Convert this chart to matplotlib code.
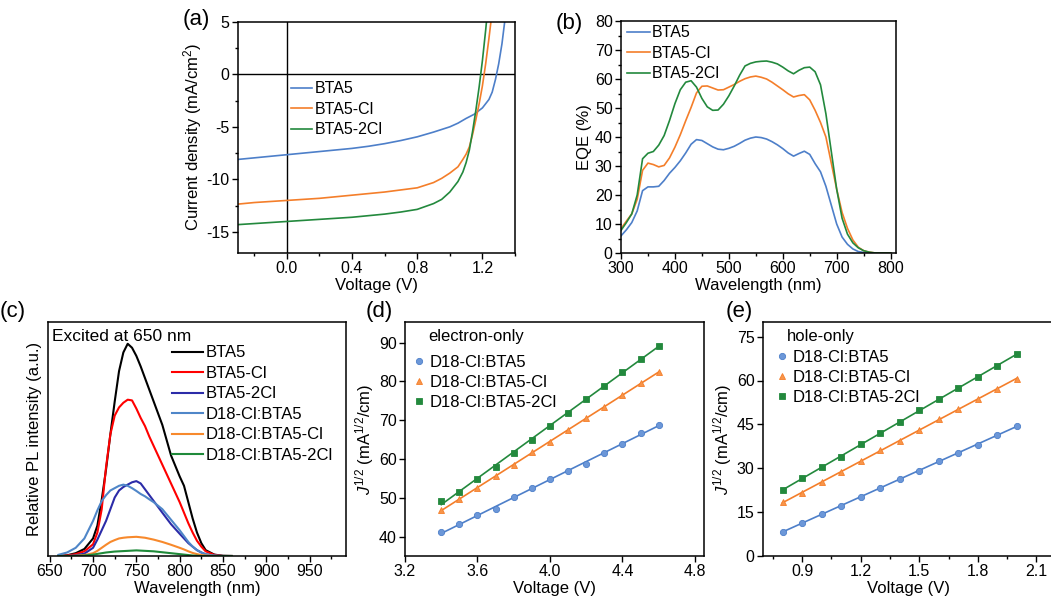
import numpy as np
import matplotlib
matplotlib.use("Agg")
import matplotlib.pyplot as plt
from matplotlib.ticker import MultipleLocator, NullLocator
from matplotlib.lines import Line2D

plt.rcParams['font.family'] = ['Liberation Sans', 'DejaVu Sans']
plt.rcParams['mathtext.fontset'] = 'custom'
plt.rcParams['mathtext.rm'] = 'Liberation Sans'
plt.rcParams['mathtext.it'] = 'Liberation Sans:italic'
plt.rcParams['axes.linewidth'] = 1.1
plt.rcParams['axes.unicode_minus'] = False

# ---------------- (a) J-V curves ----------------
jv_labels = ['BTA5', 'BTA5-Cl', 'BTA5-2Cl']
v_bta5 = [-0.3, -0.2, -0.1, 0.0, 0.1, 0.2, 0.3, 0.4, 0.5, 0.6, 0.7, 0.8, 0.9, 1.0,
          1.05, 1.1, 1.15, 1.2, 1.24, 1.26, 1.28, 1.30, 1.32, 1.34]
j_bta5 = [-8.1, -7.95, -7.8, -7.65, -7.5, -7.35, -7.2, -7.05, -6.85, -6.6, -6.3, -5.95, -5.5, -5.0,
          -4.65, -4.2, -3.8, -3.2, -2.4, -1.7, -0.5, 1.0, 2.9, 5.4]
v_cl = [-0.3, -0.2, -0.1, 0.0, 0.1, 0.2, 0.3, 0.4, 0.5, 0.6, 0.7, 0.8, 0.9, 0.95, 1.0,
        1.05, 1.08, 1.1, 1.12, 1.14, 1.16, 1.18, 1.2, 1.22, 1.24, 1.26]
j_cl = [-12.35, -12.2, -12.1, -12.0, -11.9, -11.8, -11.65, -11.5, -11.35, -11.2, -11.0, -10.8, -10.3, -9.9, -9.4,
        -8.8, -8.1, -7.6, -6.9, -5.7, -4.3, -2.8, -1.1, 1.0, 3.4, 6.0]
v_2cl = [-0.3, -0.2, -0.1, 0.0, 0.1, 0.2, 0.3, 0.4, 0.5, 0.6, 0.7, 0.8, 0.9, 0.95, 1.0,
         1.05, 1.08, 1.1, 1.12, 1.14, 1.16, 1.18, 1.2, 1.22, 1.23]
j_2cl = [-14.3, -14.2, -14.1, -14.0, -13.9, -13.8, -13.7, -13.6, -13.45, -13.3, -13.1, -12.85, -12.3, -11.9, -11.2,
         -10.2, -9.3, -8.4, -7.2, -5.4, -3.4, -1.2, 1.3, 4.2, 5.8]

# ---------------- (b) EQE ----------------
wl_eqe = [300, 310, 320, 330, 340, 350, 360, 370, 380, 390, 400, 410, 420, 430, 440, 450, 460, 470, 480, 490,
          500, 510, 520, 530, 540, 550, 560, 570, 580, 590, 600, 610, 620, 630, 640, 650, 660, 670, 680, 690,
          700, 710, 720, 730, 740, 750, 760, 770, 780, 790, 800]
eqe_bta5 = [5.9, 8.0, 10.5, 14.5, 21.5, 22.8, 22.8, 23.0, 25.0, 27.5, 29.5, 31.8, 34.5, 37.5, 39.1, 38.8, 37.7, 36.6, 35.8, 35.6,
            36.1, 36.8, 37.8, 38.9, 39.6, 40.0, 39.8, 39.3, 38.4, 37.3, 36.0, 34.5, 33.4, 34.3, 35.1, 34.0, 30.8, 28.0, 23.0, 16.5,
            10.0, 5.5, 3.0, 1.4, 0.5, 0.2, 0.05, 0.0, 0.0, 0.0, 0.0]
eqe_cl = [8.4, 11.0, 13.5, 18.5, 28.5, 31.0, 30.5, 29.7, 30.2, 32.8, 36.5, 40.8, 45.6, 50.2, 55.2, 57.5, 57.6, 56.9, 56.2, 56.3,
          57.2, 58.1, 59.2, 60.1, 60.7, 61.0, 60.6, 60.0, 58.9, 57.6, 56.3, 54.9, 53.8, 54.3, 54.6, 52.8, 49.2, 45.0, 40.0, 31.0,
          22.0, 14.0, 8.5, 4.5, 2.0, 0.8, 0.3, 0.05, 0.0, 0.0, 0.0]
eqe_2cl = [7.8, 10.5, 13.5, 20.0, 32.5, 34.4, 35.0, 37.2, 40.5, 45.7, 51.5, 56.3, 58.9, 59.4, 57.2, 53.3, 50.4, 49.2, 49.3, 51.3,
           54.2, 57.6, 61.3, 64.5, 65.4, 65.9, 66.1, 66.2, 65.8, 65.2, 64.1, 62.8, 61.8, 63.0, 63.9, 64.1, 62.5, 58.0, 48.0, 35.0,
           22.0, 12.0, 6.5, 3.5, 1.8, 0.8, 0.3, 0.05, 0.0, 0.0, 0.0]

# ---------------- (c) PL ----------------
wl_pl = [660, 670, 680, 690, 700, 705, 710, 715, 720, 725, 730, 735, 740, 745, 750, 755, 760, 765, 770, 780,
         790, 800, 805, 810, 815, 820, 825, 830, 840, 850, 860]
pl_labels = ['BTA5', 'BTA5-Cl', 'BTA5-2Cl', 'D18-Cl:BTA5', 'D18-Cl:BTA5-Cl', 'D18-Cl:BTA5-2Cl']
pl_bta5 = [0, 0.003, 0.012, 0.03, 0.075, 0.13, 0.24, 0.37, 0.52, 0.66, 0.79, 0.87, 0.907, 0.89, 0.855, 0.81, 0.76, 0.71, 0.66, 0.56,
           0.43, 0.34, 0.3, 0.23, 0.16, 0.1, 0.055, 0.025, 0.006, 0.001, 0]
pl_cl = [0, 0.002, 0.008, 0.02, 0.05, 0.1, 0.2, 0.38, 0.52, 0.6, 0.635, 0.655, 0.668, 0.665, 0.63, 0.59, 0.555, 0.51, 0.47, 0.39,
         0.31, 0.23, 0.185, 0.14, 0.1, 0.065, 0.04, 0.02, 0.005, 0, 0]
pl_2cl = [0, 0, 0.003, 0.01, 0.035, 0.07, 0.11, 0.15, 0.2, 0.25, 0.28, 0.295, 0.305, 0.315, 0.32, 0.31, 0.285, 0.26, 0.235, 0.185,
          0.136, 0.095, 0.075, 0.055, 0.04, 0.025, 0.015, 0.007, 0.001, 0, 0]
pl_d_bta5 = [0.005, 0.015, 0.035, 0.075, 0.15, 0.195, 0.235, 0.26, 0.28, 0.29, 0.3, 0.305, 0.3, 0.29, 0.278, 0.265, 0.255, 0.242, 0.23, 0.2,
             0.155, 0.11, 0.085, 0.06, 0.04, 0.025, 0.015, 0.008, 0.002, 0, 0]
pl_d_cl = [0, 0, 0.001, 0.004, 0.012, 0.022, 0.035, 0.048, 0.06, 0.068, 0.075, 0.078, 0.08, 0.081, 0.082, 0.08, 0.078, 0.074, 0.07, 0.06,
           0.048, 0.035, 0.028, 0.02, 0.013, 0.008, 0.004, 0.002, 0, 0, 0]
pl_d_2cl = [0, 0, 0, 0.002, 0.006, 0.009, 0.012, 0.015, 0.017, 0.019, 0.02, 0.021, 0.022, 0.023, 0.024, 0.023, 0.022, 0.021, 0.02, 0.016,
            0.012, 0.008, 0.006, 0.004, 0.002, 0.001, 0, 0, 0, 0, 0]

# ---------------- (d) electron-only / (e) hole-only ----------------
sclc_labels = ['D18-Cl:BTA5', 'D18-Cl:BTA5-Cl', 'D18-Cl:BTA5-2Cl']
v_e = [3.4, 3.5, 3.6, 3.7, 3.8, 3.9, 4.0, 4.1, 4.2, 4.3, 4.4, 4.5, 4.6]
je_bta5 = [41.1, 43.3, 45.6, 47.2, 50.1, 52.4, 54.8, 56.9, 58.8, 61.5, 63.9, 66.7, 68.8]
je_cl = [46.8, 49.7, 52.6, 55.5, 58.5, 61.8, 64.5, 67.4, 70.6, 73.5, 76.4, 79.5, 82.4]
je_2cl = [49.3, 51.5, 54.8, 58.0, 61.6, 65.0, 68.4, 71.9, 75.4, 78.9, 82.4, 85.8, 89.2]
v_h = [0.8, 0.9, 1.0, 1.1, 1.2, 1.3, 1.4, 1.5, 1.6, 1.7, 1.8, 1.9, 2.0]
jh_bta5 = [8.2, 11.3, 14.2, 17.1, 20.2, 23.4, 26.4, 29.2, 32.4, 35.3, 38.1, 41.3, 44.4]
jh_cl = [18.3, 21.6, 25.2, 28.8, 32.4, 36.1, 39.4, 43.0, 46.9, 50.3, 53.7, 57.2, 60.5]
jh_2cl = [22.5, 26.5, 30.3, 34.0, 38.2, 42.0, 45.9, 49.8, 53.7, 57.3, 61.2, 65.0, 69.1]

c_blue = '#4D7FC9'
c_orange = '#F47E2A'
c_green = '#23893D'

TICK = 11.5
LAB = 12

fig = plt.figure(figsize=(10.51, 6.01), dpi=100)
W, H = 1051.0, 601.0


def add_ax(l, r, t, b):
    return fig.add_axes([l / W, 1 - b / H, (r - l) / W, (b - t) / H])


def style(ax, minor_x=None, minor_y=None):
    ax.tick_params(which='both', direction='out', labelsize=TICK, width=1.0, pad=2)
    ax.tick_params(which='major', length=4)
    ax.tick_params(which='minor', length=2.5)
    if minor_x:
        ax.xaxis.set_minor_locator(MultipleLocator(minor_x))
    if minor_y:
        ax.yaxis.set_minor_locator(MultipleLocator(minor_y))


# (a)
ax = add_ax(238, 515, 21.7, 253)
ax.axhline(0, color='black', lw=1.0)
ax.axvline(0, color='black', lw=1.0)
for v, j, c, lab in zip([v_bta5, v_cl, v_2cl], [j_bta5, j_cl, j_2cl], [c_blue, c_orange, c_green], jv_labels):
    ax.plot(v, j, color=c, lw=1.2, label=lab)
ax.set_xlim(-0.3, 1.4)
ax.set_ylim(-17, 5)
ax.set_xticks([0.0, 0.4, 0.8, 1.2])
ax.set_xticklabels(['0.0', '0.4', '0.8', '1.2'])
ax.set_yticks([-15, -10, -5, 0, 5])
style(ax, 0.2, 2.5)
ax.set_xlabel('Voltage (V)', fontsize=LAB, labelpad=1)
ax.set_ylabel('Current density (mA/cm$^2$)', fontsize=LAB, labelpad=2)
ax.legend(loc='upper left', bbox_to_anchor=(0.19, 0.742), frameon=False, fontsize=11.5,
          borderpad=0, borderaxespad=0, handlelength=1.35, handletextpad=0.15, labelspacing=0.34)

# (b)
ax = add_ax(621, 896, 21, 253)
for e, c, lab in zip([eqe_bta5, eqe_cl, eqe_2cl], [c_blue, c_orange, c_green], jv_labels):
    ax.plot(wl_eqe, e, color=c, lw=1.2, label=lab)
ax.set_xlim(300, 810)
ax.set_ylim(0, 80)
ax.set_xticks(range(300, 801, 100))
ax.set_yticks(range(0, 81, 10))
style(ax, 50, 5)
ax.set_xlabel('Wavelength (nm)', fontsize=LAB, labelpad=1)
ax.set_ylabel('EQE (%)', fontsize=LAB, labelpad=2)
ax.legend(loc='upper left', bbox_to_anchor=(0.02, 0.981), frameon=False, fontsize=11.5,
          borderpad=0, borderaxespad=0, handlelength=1.45, handletextpad=0.15, labelspacing=0.34)

# (c)
ax = add_ax(48, 346, 322, 556)
pl_colors = ['black', '#FF0000', '#2B2BA8', '#4F86C8', '#F7892C', '#1F8A3A']
for p, c, lab in zip([pl_bta5, pl_cl, pl_2cl, pl_d_bta5, pl_d_cl, pl_d_2cl], pl_colors, pl_labels):
    ax.plot(wl_pl, p, color=c, lw=1.5, label=lab)
ax.set_xlim(648, 992)
ax.set_ylim(0, 1.0)
ax.set_xticks(range(650, 951, 50))
ax.yaxis.set_major_locator(NullLocator())
style(ax, 25)
ax.set_xlabel('Wavelength (nm)', fontsize=LAB, labelpad=1)
ax.set_ylabel('Relative PL intensity (a.u.)', fontsize=LAB, labelpad=4)
ax.text(0.015, 0.94, 'Excited at 650 nm', transform=ax.transAxes, fontsize=12.5, va='center', ha='left')
ax.legend(loc='upper left', bbox_to_anchor=(0.415, 0.9), frameon=False, fontsize=12,
          borderpad=0, borderaxespad=0, handlelength=1.85, handletextpad=0.2, labelspacing=0.33)


def sclc_panel(ax, v, ys, title, tx, ty, lx, ly):
    markers = ['o', '^', 's']
    mcols = ['#6C97D8', '#F8954A', '#23893D']
    lcols = [c_blue, c_orange, c_green]
    handles = []
    for y, m, mc, lc, lab in zip(ys, markers, mcols, lcols, sclc_labels):
        k, b0 = np.polyfit(v, y, 1)
        vv = np.array([v[0], v[-1]])
        ax.plot(vv, k * vv + b0, color=lc, lw=1.2)
        ax.plot(v, y, ls='none', marker=m, ms=4.5, mfc=mc, mec=lc, mew=0.6)
        handles.append(Line2D([], [], ls='none', marker=m, ms=4.5, mfc=mc, mec=lc, mew=0.6, label=lab))
    ax.text(tx, ty, title, transform=ax.transAxes, fontsize=12, va='center', ha='left')
    ax.legend(handles=handles, loc='upper left', bbox_to_anchor=(lx, ly), frameon=False, fontsize=12,
              borderpad=0, borderaxespad=0, handlelength=0.8, handletextpad=0.25, labelspacing=0.3,
              numpoints=1)
    ax.set_xlabel('Voltage (V)', fontsize=LAB, labelpad=1)
    ax.set_ylabel('$J^{1/2}$ (mA$^{1/2}$/cm)', fontsize=LAB, labelpad=2)


# (d)
ax = add_ax(405, 704, 322, 556)
sclc_panel(ax, v_e, [je_bta5, je_cl, je_2cl], 'electron-only', 0.077, 0.937, 0.025, 0.86)
ax.set_xlim(3.2, 4.85)
ax.set_ylim(35, 95.3)
ax.set_xticks([3.2, 3.6, 4.0, 4.4, 4.8])
ax.set_xticklabels(['3.2', '3.6', '4.0', '4.4', '4.8'])
ax.set_yticks(range(40, 91, 10))
style(ax)

# (e)
ax = add_ax(763, 1054, 322, 556)
sclc_panel(ax, v_h, [jh_bta5, jh_cl, jh_2cl], 'hole-only', 0.082, 0.94, 0.042, 0.88)
ax.set_xlim(0.7, 2.19)
ax.set_ylim(0, 80)
ax.set_xticks([0.9, 1.2, 1.5, 1.8, 2.1])
ax.set_xticklabels(['0.9', '1.2', '1.5', '1.8', '2.1'])
ax.set_yticks(range(0, 76, 15))
style(ax, 0.15)

# panel labels
for lab, x, y in [('(a)', 183, 20), ('(b)', 556, 24), ('(c)', 0, 311), ('(d)', 366, 311), ('(e)', 726, 311)]:
    fig.text(x / W, 1 - y / H, lab, fontsize=16, ha='left', va='center')

fig.savefig('out.png', dpi=100)
